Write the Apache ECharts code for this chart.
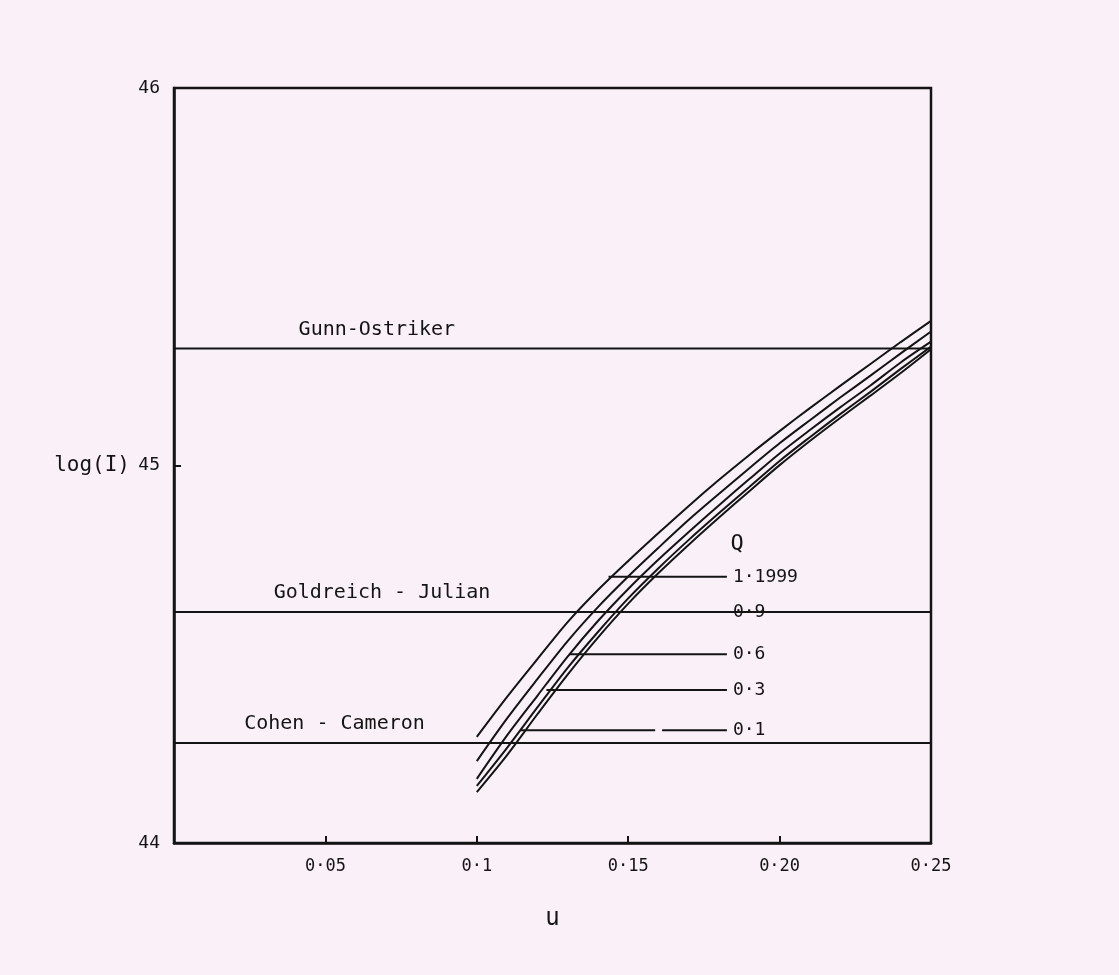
<!DOCTYPE html>
<html>
<head>
<meta charset="utf-8">
<script src="https://cdn.jsdelivr.net/npm/echarts@6/dist/echarts.min.js"></script>
<style>
  html, body { margin: 0; padding: 0; background: #faf0f8; }
  #chart { width: 1119px; height: 975px; }
</style>
</head>
<body>
<div id="chart"></div>
<script>
// ---- data ----
const U = [0.10, 0.11, 0.12, 0.13, 0.14, 0.15, 0.16, 0.17, 0.18, 0.19, 0.20, 0.21, 0.22, 0.23, 0.24, 0.25];
const Q_1_1999 = [44.281, 44.387, 44.487, 44.585, 44.670, 44.747, 44.821, 44.893, 44.962, 45.028, 45.091, 45.152, 45.211, 45.269, 45.327, 45.383];
const Q_0_9    = [44.217, 44.330, 44.434, 44.535, 44.625, 44.706, 44.782, 44.856, 44.925, 44.993, 45.059, 45.120, 45.180, 45.238, 45.297, 45.355];
const Q_0_6    = [44.170, 44.285, 44.390, 44.494, 44.588, 44.673, 44.751, 44.824, 44.895, 44.964, 45.032, 45.094, 45.154, 45.212, 45.273, 45.328];
const Q_0_3    = [44.151, 44.252, 44.359, 44.464, 44.559, 44.648, 44.728, 44.803, 44.874, 44.943, 45.012, 45.075, 45.136, 45.195, 45.256, 45.315];
const Q_0_1    = [44.135, 44.233, 44.341, 44.446, 44.544, 44.634, 44.715, 44.790, 44.862, 44.932, 45.001, 45.065, 45.126, 45.185, 45.245, 45.308];
const CURVES = [Q_1_1999, Q_0_9, Q_0_6, Q_0_3, Q_0_1];

const REF_NAMES = ['Gunn-Ostriker', 'Goldreich - Julian', 'Cohen - Cameron'];
const REF_VALUES = [45.31, 44.612, 44.265];
const REF_LABEL_U = [0.067, 0.0687, 0.053];

const LEADER_TEXT = ['1·1999', '0·9', '0·6', '0·3', '0·1'];
const LEADER_V = [44.705, 44.612, 44.50, 44.405, 44.299];
const LEADER_START_U = [0.1435, 0.1367, 0.1305, 0.1230, 0.1143];
const LEADER_END_U = 0.1826;
const LEADER_GAP_0_1 = [0.1589, 0.1612];
const Q_TITLE_POS = [0.186, 44.79];

const X_TICKS = [0.05, 0.10, 0.15, 0.20, 0.25];
const X_TICK_TEXT = ['0·05', '0·1', '0·15', '0·20', '0·25'];

// ---- chart ----
const INK = '#141414';
const FONT = 'DejaVu Sans Mono';
const series = [];

CURVES.forEach((vals) => {
  series.push({
    type: 'line', smooth: 0.3, symbol: 'none', silent: true,
    lineStyle: { color: INK, width: 2 },
    data: U.map((u, i) => [u, vals[i]])
  });
});

REF_VALUES.forEach((v) => {
  series.push({
    type: 'line', symbol: 'none', silent: true,
    lineStyle: { color: INK, width: 2 },
    data: [[0, v], [0.25, v]]
  });
});

series.push({
  type: 'scatter', symbolSize: 0, silent: true,
  itemStyle: { opacity: 1 },
  label: {
    show: true, position: 'top', distance: 9, color: INK,
    fontFamily: FONT, fontSize: 20,
    formatter: (p) => p.data[2]
  },
  data: REF_NAMES.map((n, i) => [REF_LABEL_U[i], REF_VALUES[i], n])
});

LEADER_V.forEach((v, i) => {
  let data;
  if (LEADER_TEXT[i] === '0·1') {
    data = [[LEADER_START_U[i], v], [LEADER_GAP_0_1[0], v], null, [LEADER_GAP_0_1[1], v], [LEADER_END_U, v]];
  } else {
    data = [[LEADER_START_U[i], v], [LEADER_END_U, v]];
  }
  series.push({
    type: 'line', symbol: 'none', silent: true, connectNulls: false,
    lineStyle: { color: INK, width: 2 },
    data: data
  });
});

series.push({
  type: 'scatter', symbolSize: 0, silent: true,
  itemStyle: { opacity: 1 },
  label: {
    show: true, position: 'right', distance: 6, color: INK,
    fontFamily: FONT, fontSize: 18,
    formatter: (p) => p.data[2]
  },
  data: LEADER_V.map((v, i) => [LEADER_END_U, v, LEADER_TEXT[i]])
});

series.push({
  type: 'scatter', symbolSize: 0, silent: true,
  itemStyle: { opacity: 1 },
  label: {
    show: true, position: 'inside', color: INK,
    fontFamily: FONT, fontSize: 22,
    formatter: 'Q'
  },
  data: [Q_TITLE_POS]
});

const chart = echarts.init(document.getElementById('chart'), null, { renderer: 'canvas' });
chart.setOption({
  backgroundColor: '#faf0f8',
  animation: false,
  grid: {
    left: 174, right: 188, top: 88, bottom: 132,
    show: true, borderColor: INK, borderWidth: 2.5, backgroundColor: 'transparent'
  },
  xAxis: {
    type: 'value', min: 0, max: 0.25, interval: 0.05,
    name: 'u', nameLocation: 'middle', nameGap: 64,
    nameTextStyle: { fontFamily: FONT, fontSize: 24, color: INK },
    axisLine: { show: true, lineStyle: { color: INK, width: 2.5 } },
    axisTick: { show: true, inside: true, length: 7, lineStyle: { color: INK, width: 2 } },
    splitLine: { show: false },
    axisLabel: {
      margin: 15, color: INK, fontFamily: FONT, fontSize: 17,
      formatter: (v) => {
        const idx = X_TICKS.findIndex((t) => Math.abs(t - v) < 1e-9);
        return idx >= 0 ? X_TICK_TEXT[idx] : '';
      }
    }
  },
  yAxis: {
    type: 'value', min: 44, max: 46, interval: 1,
    name: 'log(I)', nameLocation: 'middle', nameRotate: 0, nameGap: 44,
    nameTextStyle: { fontFamily: FONT, fontSize: 21, color: INK, align: 'right', verticalAlign: 'middle' },
    axisLine: { show: true, lineStyle: { color: INK, width: 2.5 } },
    axisTick: { show: true, inside: true, length: 7, lineStyle: { color: INK, width: 2 } },
    splitLine: { show: false },
    axisLabel: { margin: 14, color: INK, fontFamily: FONT, fontSize: 18 }
  },
  series: series
});
</script>
</body>
</html>
